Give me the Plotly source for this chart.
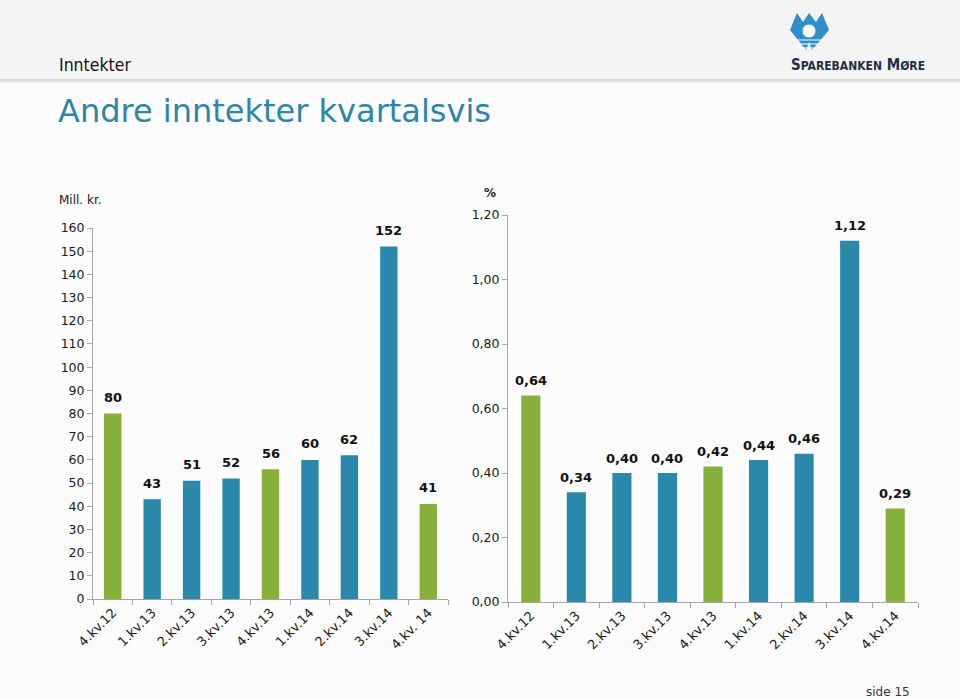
import plotly.graph_objects as go

categories_left = ["4.kv.12", "1.kv.13", "2.kv.13", "3.kv.13", "4.kv.13",
                   "1.kv.14", "2.kv.14", "3.kv.14", "4.kv. 14"]
values_mill = [80, 43, 51, 52, 56, 60, 62, 152, 41]

categories_right = ["4.kv.12", "1.kv.13", "2.kv.13", "3.kv.13", "4.kv.13",
                    "1.kv.14", "2.kv.14", "3.kv.14", "4.kv.14"]
values_pct = [0.64, 0.34, 0.40, 0.40, 0.42, 0.44, 0.46, 1.12, 0.29]

left_ticks = list(range(0, 161, 10))
right_ticks = [0.0, 0.2, 0.4, 0.6, 0.8, 1.0, 1.2]

GREEN = "#87b03b"
BLUE = "#2a89ab"


def bar_colors(cats):
    return [GREEN if c.startswith("4.") else BLUE for c in cats]


W, H = 960, 699


def px(x):
    return x / W


def py(y):
    return 1 - y / H


fig = go.Figure()

label_font = dict(family="DejaVu Sans", size=13, color="#111111", weight="bold")

fig.add_trace(go.Bar(
    x=categories_left, y=values_mill, xaxis="x", yaxis="y",
    marker=dict(color=bar_colors(categories_left), line=dict(width=0)),
    width=0.44, showlegend=False, hoverinfo="x+y",
))

fig.add_trace(go.Bar(
    x=categories_right, y=values_pct, xaxis="x2", yaxis="y2",
    marker=dict(color=bar_colors(categories_right), line=dict(width=0)),
    width=0.42, showlegend=False, hoverinfo="x+y",
))

axis_common = dict(
    showgrid=False, zeroline=False, showline=True, linecolor="#a6a6a6",
    linewidth=1, ticks="outside", ticklen=5, tickcolor="#a6a6a6",
    automargin=False,
)
xfont = dict(family="DejaVu Sans", size=13, color="#1a1a1a")
yfont = dict(family="DejaVu Sans", size=12.5, color="#1a1a1a")

fig.update_layout(
    width=W, height=H,
    margin=dict(l=0, r=0, t=0, b=0, autoexpand=False),
    paper_bgcolor="#fbfbfb", plot_bgcolor="rgba(0,0,0,0)",
    separators=",.",
    xaxis=dict(domain=[px(93), px(448)], anchor="y", type="category",
               tickson="boundaries", tickangle=-45, tickfont=xfont, **axis_common),
    yaxis=dict(domain=[py(599), py(228)], anchor="x", range=[0, 160],
               tickvals=left_ticks, tickfont=yfont, **axis_common),
    xaxis2=dict(domain=[px(508), px(918)], anchor="y2", type="category",
                tickson="boundaries", tickangle=-45, tickfont=xfont, **axis_common),
    yaxis2=dict(domain=[py(602), py(215)], anchor="x2", range=[0, 1.2],
                tickvals=right_ticks, tickformat=".2f", tickfont=yfont, **axis_common),
)

# header band
fig.add_shape(type="rect", xref="paper", yref="paper",
              x0=0, x1=1, y0=py(80), y1=1,
              fillcolor="#f4f4f4", line=dict(width=0), layer="below")
fig.add_shape(type="line", xref="paper", yref="paper",
              x0=0, x1=1, y0=py(80), y1=py(80),
              line=dict(color="#dcdcdc", width=2), layer="below")
fig.add_shape(type="line", xref="paper", yref="paper",
              x0=0, x1=1, y0=py(82), y1=py(82),
              line=dict(color="#ececec", width=2), layer="below")

# logo mark (simplified)
fig.add_shape(type="path", xref="paper", yref="paper",
              path=(f"M {px(790)},{py(30)} L {px(797)},{py(13)} L {px(803)},{py(22)} "
                    f"L {px(809)},{py(13)} L {px(816)},{py(22)} L {px(822)},{py(13)} "
                    f"L {px(829)},{py(30)} L {px(812)},{py(50)} L {px(809)},{py(42)} "
                    f"L {px(806)},{py(50)} Z"),
              fillcolor="#2f8fc9", line=dict(width=0))
fig.add_shape(type="circle", xref="paper", yref="paper",
              x0=px(802), x1=px(816), y0=py(38), y1=py(24),
              fillcolor="#ffffff", line=dict(color="#2f8fc9", width=1))
for yy in (40, 44, 48):
    fig.add_shape(type="line", xref="paper", yref="paper",
                  x0=px(797), x1=px(822), y0=py(yy), y1=py(yy),
                  line=dict(color="#ffffff", width=1))

annotations = [
    dict(text="Inntekter", x=px(57), y=py(65), xanchor="left", yanchor="middle",
         font=dict(family="DejaVu Sans Condensed", size=17.5, color="#111111")),
    dict(text="Andre inntekter kvartalsvis", x=px(56), y=py(111), xanchor="left",
         yanchor="middle",
         font=dict(family="DejaVu Sans", size=32, color="#2c86a8")),
    dict(text="S<span style='font-size:12px'>PAREBANKEN</span> M<span style='font-size:12px'>ØRE</span>",
         x=px(789), y=py(65), xanchor="left", yanchor="middle",
         font=dict(family="DejaVu Sans Condensed", size=15, color="#1f2f4a", weight="bold")),
    dict(text="Mill. kr.", x=px(57), y=py(200), xanchor="left", yanchor="middle",
         font=dict(family="DejaVu Sans", size=12, color="#222222")),
    dict(text="<b>%</b>", x=px(490), y=py(193), xanchor="center", yanchor="middle",
         font=dict(family="DejaVu Sans", size=12, color="#222222")),
    dict(text="side 15", x=px(912), y=py(692), xanchor="right", yanchor="middle",
         font=dict(family="DejaVu Sans", size=12, color="#333333")),
]
for a in annotations:
    a.update(xref="paper", yref="paper", showarrow=False)

for c, v in zip(categories_left, values_mill):
    annotations.append(dict(x=c, y=v, xref="x", yref="y", text=str(v),
                            yshift=16, showarrow=False, font=label_font,
                            xanchor="center", yanchor="middle"))
for c, v in zip(categories_right, values_pct):
    annotations.append(dict(x=c, y=v, xref="x2", yref="y2",
                            text=f"{v:.2f}".replace(".", ","),
                            yshift=15, showarrow=False, font=label_font,
                            xanchor="center", yanchor="middle"))

fig.update_layout(annotations=annotations)

fig.write_html(
    "out.html",
    config={"displayModeBar": False},
    post_script="document.body.style.margin='0';document.body.style.padding='0';"
                "document.documentElement.style.overflow='hidden';",
)
